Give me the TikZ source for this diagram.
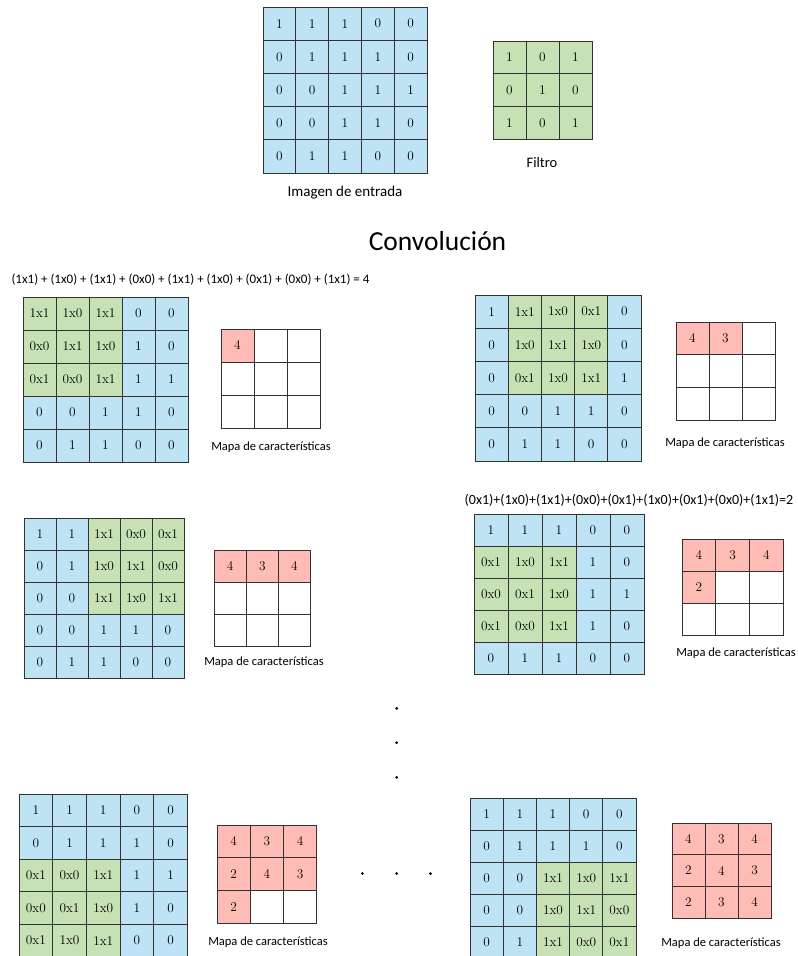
\documentclass[tikz,border=0pt]{standalone}
\usepackage{fontspec}
\newfontfamily\calfont{Carlito}
\definecolor{cblue}{RGB}{190,227,244}
\definecolor{cgreen}{RGB}{198,226,180}
\definecolor{cpink}{RGB}{255,187,181}
\definecolor{gridline}{RGB}{50,50,50}
\newcommand\cellfont{\fontsize{13.3}{15}\selectfont}
\def\emptymark{-}
\tikzset{
  cell/.style={draw=gridline, line width=1pt, inner sep=0pt, font=\cellfont},
  lbl/.style={inner sep=0pt, font=\calfont\fontsize{12.5}{14}\selectfont},
  dotnode/.style={circle, fill=black, inner sep=0pt, minimum size=3pt}
}
% name, x0, y0, cw, ch, rowstart, colstart, data
\newcommand\cgrid[8]{%
  \foreach \rowv [count=\r] in {#8} {%
    \foreach \val [count=\c] in \rowv {%
      \pgfmathtruncatemacro\isg{((\r>=#6)&&(\r<=#6+2))&&((\c>=#7)&&(\c<=#7+2))}%
      \ifnum\isg=1 \def\fc{cgreen}\else\def\fc{cblue}\fi
      \node[cell, fill=\fc, minimum width=#4pt, minimum height=#5pt] (#1-\r-\c) at ({#2+(\c-0.5)*#4},{#3+(\r-0.5)*#5}) {\val};
    }%
  }%
}
% name, x0, y0, cw, ch, data
\newcommand\fmap[6]{%
  \foreach \rowv [count=\r] in {#6} {%
    \foreach \val [count=\c] in \rowv {%
      \edef\tmpv{\val}%
      \ifx\tmpv\emptymark \def\fc{white}\def\tx{}\else\def\fc{cpink}\let\tx\tmpv\fi
      \node[cell, fill=\fc, minimum width=#4pt, minimum height=#5pt] (#1-\r-\c) at ({#2+(\c-0.5)*#4},{#3+(\r-0.5)*#5}) {\tx};
    }%
  }%
}
\begin{document}
\begin{tikzpicture}[x=1pt, y=-1pt]
\useasboundingbox (0,0) rectangle (798,956);
% input and filter
\cgrid{in}{263}{7}{32.8}{33.2}{9}{9}{{1,1,1,0,0},{0,1,1,1,0},{0,0,1,1,1},{0,0,1,1,0},{0,1,1,0,0}}
\cgrid{fil}{493}{41}{33}{32.9}{1}{1}{{1,0,1},{0,1,0},{1,0,1}}
\node[lbl, font=\calfont\fontsize{15}{17}\selectfont] (tin) at (345,193) {Imagen de entrada};
\node[lbl, font=\calfont\fontsize{14.5}{17}\selectfont] (tfil) at (542,163) {Filtro};
\node[lbl, font=\calfont\fontsize{27.5}{30}\selectfont] (title) at (437.5,241.5) {Convolución};
% step A
\node[lbl, font=\calfont\fontsize{13}{15}\selectfont] (eqA) at (190.5,280) {(1x1) + (1x0) + (1x1) + (0x0) + (1x1) + (1x0) + (0x1) + (0x0) + (1x1) = 4};
\cgrid{A}{23}{297}{33}{33}{1}{1}{{1x1,1x0,1x1,0,0},{0x0,1x1,1x0,1,0},{0x1,0x0,1x1,1,1},{0,0,1,1,0},{0,1,1,0,0}}
\fmap{fA}{221}{329}{33}{33}{{4,-,-},{-,-,-},{-,-,-}}
\node[lbl] (lA) at (271,447) {Mapa de características};
% step B
\cgrid{B}{475}{295}{33.2}{33.2}{1}{2}{{1,1x1,1x0,0x1,0},{0,1x0,1x1,1x0,0},{0,0x1,1x0,1x1,1},{0,0,1,1,0},{0,1,1,0,0}}
\fmap{fB}{676}{322}{33}{32.8}{{4,3,-},{-,-,-},{-,-,-}}
\node[lbl] (lB) at (725,443) {Mapa de características};
% step C
\cgrid{C}{24}{518}{32}{32.1}{1}{3}{{1,1,1x1,0x0,0x1},{0,1,1x0,1x1,0x0},{0,0,1x1,1x0,1x1},{0,0,1,1,0},{0,1,1,0,0}}
\fmap{fC}{214}{550}{32.2}{32}{{4,3,4},{-,-,-},{-,-,-}}
\node[lbl] (lC) at (264,662) {Mapa de características};
% step D
\node[lbl, font=\calfont\fontsize{14}{16}\selectfont] (eqD) at (629,500.7) {(0x1)+(1x0)+(1x1)+(0x0)+(0x1)+(1x0)+(0x1)+(0x0)+(1x1)=2};
\cgrid{D}{474}{514}{34}{32}{2}{1}{{1,1,1,0,0},{0x1,1x0,1x1,1,0},{0x0,0x1,1x0,1,1},{0x1,0x0,1x1,1,0},{0,1,1,0,0}}
\fmap{fD}{682}{539}{33.7}{32}{{4,3,4},{2,-,-},{-,-,-}}
\node[lbl] (lD) at (736,653) {Mapa de características};
% dots
\node[dotnode] (v1) at (396.7,708.3) {};
\node[dotnode] (v2) at (396.7,742.7) {};
\node[dotnode] (v3) at (396.7,777.3) {};
\node[dotnode] (h1) at (362.3,873.5) {};
\node[dotnode] (h2) at (396.7,873.5) {};
\node[dotnode] (h3) at (430.5,873.5) {};
% step E
\cgrid{E}{19}{794}{33.7}{32.6}{3}{1}{{1,1,1,0,0},{0,1,1,1,0},{0x1,0x0,1x1,1,1},{0x0,0x1,1x0,1,0},{0x1,1x0,1x1,0,0}}
\fmap{fE}{217}{825}{33.3}{32.8}{{4,3,4},{2,4,3},{2,-,-}}
\node[lbl] (lE) at (268,942) {Mapa de características};
% step F
\cgrid{F}{470}{798}{33.2}{32}{3}{3}{{1,1,1,0,0},{0,1,1,1,0},{0,0,1x1,1x0,1x1},{0,0,1x0,1x1,0x0},{0,1,1x1,0x0,0x1}}
\fmap{fF}{672}{823}{33}{31.7}{{4,3,4},{2,4,3},{2,3,4}}
\node[lbl] (lF) at (721,943) {Mapa de características};
\end{tikzpicture}
\end{document}
